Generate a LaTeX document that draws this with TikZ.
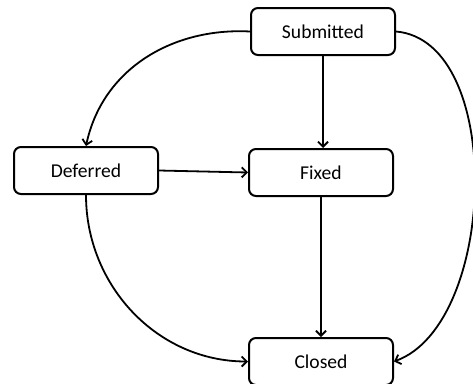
\documentclass[tikz,border=0pt]{standalone}
\usepackage{fontspec}
\setmainfont{Carlito}
\usetikzlibrary{arrows.meta,positioning}
\tikzset{
  >={Straight Barb[length=5pt,width=10pt]},
  state/.style={
    rectangle,
    rounded corners=7pt,
    draw=black, line width=2pt,
    minimum width=144pt,
    minimum height=47pt,
    font=\fontsize{19.6}{23}\selectfont,
    text centered},
  line/.style={draw, line width=1.8pt, ->},
}

\begin{document}
\begin{tikzpicture}[x=1pt,y=-1pt]
  \useasboundingbox (0,0) rectangle (473,383);
  % states
  \node[state] (submitted) at (323,31.5)  {Submitted};
  \node[state] (deferred)  at (86,170.5)  {Deferred};
  \node[state] (fixed)     at (321,172.5) {Fixed};
  \node[state] (closed)    at (321,361.5) {Closed};
  % transitions
  \path[line] (submitted.west) to[out=177,in=78] (deferred.north);
  \path[line] (submitted.south) -- (submitted.south |- fixed.north);
  \path[line] (submitted.east) to[out=-5,in=20,looseness=0.85] (closed.east);
  \path[line] (deferred.east) -- (fixed.west);
  \path[line] (deferred.south) to[out=-90,in=180] (closed.west);
  \path[line] (fixed.south) -- (closed.north);
\end{tikzpicture}
\end{document}
